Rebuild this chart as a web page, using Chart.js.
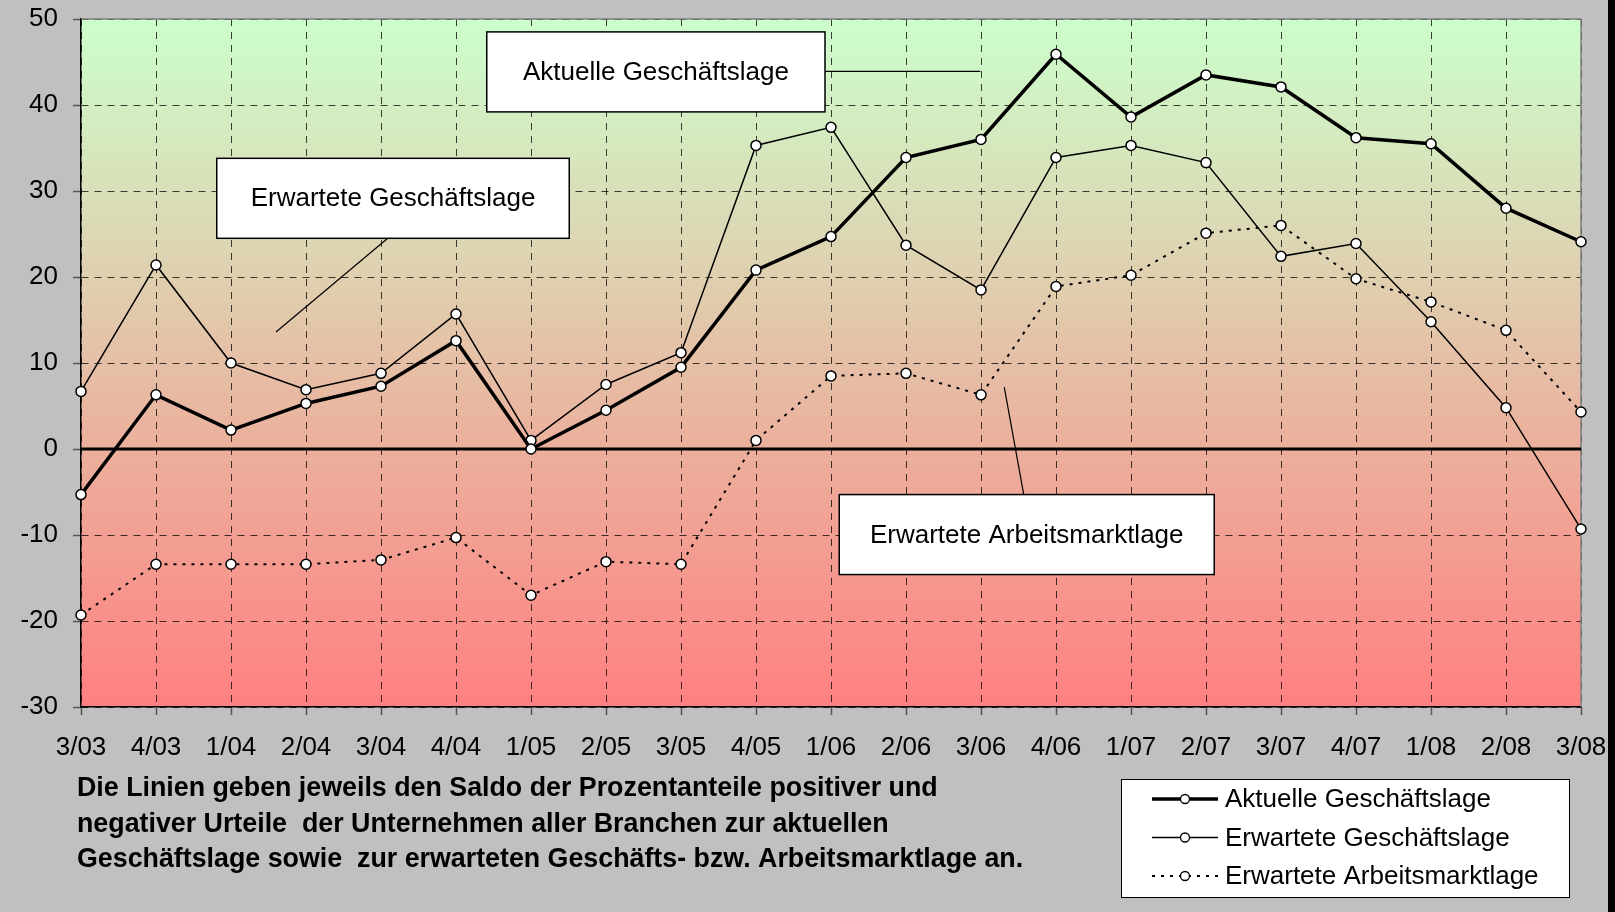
<!DOCTYPE html>
<html><head><meta charset="utf-8">
<script src="https://cdn.jsdelivr.net/npm/chart.js@4.4.0/dist/chart.umd.min.js"></script>
<style>html,body{margin:0;padding:0;background:#c0c0c0;overflow:hidden}
#wrap{position:relative;width:1615px;height:912px}</style>
</head><body><div id="wrap"><canvas id="c" width="1615" height="912"></canvas></div>
<script>
const categories = ['3/03','4/03','1/04','2/04','3/04','4/04','1/05','2/05','3/05','4/05','1/06','2/06','3/06','4/06','1/07','2/07','3/07','4/07','1/08','2/08','3/08'];
const aktuelleLage = [-5.3, 6.3, 2.2, 5.3, 7.3, 12.6, 0.0, 4.5, 9.5, 20.8, 24.7, 33.9, 36.0, 45.9, 38.6, 43.5, 42.1, 36.2, 35.5, 28.0, 24.1];
const erwarteteLage = [6.7, 21.4, 10.0, 6.9, 8.8, 15.7, 1.0, 7.5, 11.2, 35.3, 37.4, 23.7, 18.5, 33.9, 35.3, 33.3, 22.4, 23.9, 14.8, 4.8, -9.3];
const arbeitsmarkt = [-19.3, -13.4, -13.4, -13.4, -12.9, -10.3, -17.0, -13.1, -13.4, 1.0, 8.5, 8.8, 6.3, 18.9, 20.2, 25.1, 26.0, 19.8, 17.1, 13.8, 4.3];
const seriesNames = ['Aktuelle Geschäftslage', 'Erwartete Geschäftslage', 'Erwartete Arbeitsmarktlage'];
const yMin = -30, yMax = 50, yStep = 10;
const noteLines = [
  'Die Linien geben jeweils den Saldo der Prozentanteile positiver und',
  'negativer Urteile  der Unternehmen aller Branchen zur aktuellen',
  'Geschäftslage sowie  zur erwarteten Geschäfts- bzw. Arbeitsmarktlage an.'
];
// callouts: box in data coords [x1,x2,yTop,yBottom], leader from [x,y] to [x,y]
const callouts = [
  {text: seriesNames[0], box: [5.41, 9.92, 48.5, 39.2], from: [9.92, 43.9], to: [11.99, 43.9]},
  {text: seriesNames[1], box: [1.81, 6.51, 33.8, 24.5], from: [4.09, 24.5], to: [2.6, 13.6]},
  {text: seriesNames[2], box: [10.11, 15.11, -5.3, -14.6], from: [12.57, -5.3], to: [12.31, 7.2]}
];

const FONT = '"Liberation Sans", Arial, Helvetica, sans-serif';

const bgPlugin = {
  id: 'bg',
  beforeDraw(chart) {
    const {ctx, chartArea: a} = chart;
    ctx.save();
    ctx.fillStyle = '#c0c0c0';
    ctx.fillRect(0, 0, chart.width, chart.height);
    const g = ctx.createLinearGradient(0, a.top, 0, a.bottom);
    g.addColorStop(0, '#ccffcc');
    g.addColorStop(1, '#ff8080');
    ctx.fillStyle = g;
    ctx.fillRect(a.left, a.top, a.right - a.left, a.bottom - a.top);
    ctx.restore();
  },
  beforeDatasetsDraw(chart) {
    const {ctx, chartArea: a, scales: {y}} = chart;
    ctx.save();
    ctx.strokeStyle = '#808080';
    ctx.lineWidth = 1.5;
    ctx.beginPath();
    ctx.moveTo(a.left, a.top);
    ctx.lineTo(a.right, a.top);
    ctx.lineTo(a.right, a.bottom);
    ctx.stroke();
    const y0 = y.getPixelForValue(0);
    ctx.strokeStyle = '#000';
    ctx.lineWidth = 3;
    ctx.beginPath();
    ctx.moveTo(a.left, y0);
    ctx.lineTo(a.right, y0);
    ctx.stroke();
    ctx.restore();
  },
  afterDatasetsDraw(chart) {
    const {ctx, scales: {x, y}} = chart;
    ctx.save();
    callouts.forEach(c => {
      const x1 = x.getPixelForValue(c.box[0]), x2 = x.getPixelForValue(c.box[1]);
      const y1 = y.getPixelForValue(c.box[2]), y2 = y.getPixelForValue(c.box[3]);
      ctx.strokeStyle = '#000';
      ctx.lineWidth = 1.2;
      ctx.beginPath();
      ctx.moveTo(x.getPixelForValue(c.from[0]), y.getPixelForValue(c.from[1]));
      ctx.lineTo(x.getPixelForValue(c.to[0]), y.getPixelForValue(c.to[1]));
      ctx.stroke();
      ctx.fillStyle = '#fff';
      ctx.fillRect(x1, y1, x2 - x1, y2 - y1);
      ctx.lineWidth = 1.5;
      ctx.strokeRect(x1, y1, x2 - x1, y2 - y1);
      ctx.fillStyle = '#000';
      ctx.font = '26px ' + FONT;
      ctx.textAlign = 'center';
      ctx.textBaseline = 'middle';
      ctx.fillText(c.text, (x1 + x2) / 2, (y1 + y2) / 2 + 1);
    });
    ctx.restore();
  },
  afterDraw(chart) {
    const {ctx} = chart;
    ctx.save();
    // notes
    ctx.fillStyle = '#000';
    ctx.textAlign = 'left';
    ctx.textBaseline = 'middle';
    ctx.font = 'bold 24px ' + FONT;
    const w = ctx.measureText(noteLines[0]).width;
    const fs = 24 * 861 / w;
    ctx.font = 'bold ' + fs.toFixed(2) + 'px ' + FONT;
    noteLines.forEach((t, i) => ctx.fillText(t, 77, 789 + i * 35.5));
    // legend
    const lx = 1121, ly = 779, lw = 448, lh = 118;
    ctx.fillStyle = '#fff';
    ctx.fillRect(lx, ly, lw, lh);
    ctx.strokeStyle = '#000';
    ctx.lineWidth = 1;
    ctx.strokeRect(lx + 0.5, ly + 0.5, lw, lh);
    chart.data.datasets.forEach((ds, i) => {
      const cy = 799 + i * 38.5;
      ctx.strokeStyle = '#000';
      ctx.lineWidth = ds.borderWidth;
      ctx.setLineDash(ds.borderDash || []);
      ctx.beginPath();
      ctx.moveTo(1152, cy);
      ctx.lineTo(1218, cy);
      ctx.stroke();
      ctx.setLineDash([]);
      ctx.fillStyle = '#fff';
      ctx.lineWidth = 1.3;
      ctx.beginPath();
      ctx.arc(1185, cy, 4.5, 0, Math.PI * 2);
      ctx.fill();
      ctx.stroke();
      ctx.fillStyle = '#000';
      ctx.font = '26px ' + FONT;
      ctx.textBaseline = 'middle';
      ctx.fillText(ds.label, 1225, cy + 1);
    });
    // right dark edge
    ctx.fillStyle = '#000';
    ctx.fillRect(1608, 0, 7, chart.height);
    ctx.restore();
  }
};

const pointStyle = {pointRadius: 5, pointHoverRadius: 5, pointBackgroundColor: '#fff', pointBorderColor: '#000', pointBorderWidth: 1.5};

new Chart(document.getElementById('c'), {
  type: 'line',
  data: {
    labels: categories,
    datasets: [
      Object.assign({label: seriesNames[0], data: aktuelleLage, borderColor: '#000', borderWidth: 3.5, tension: 0}, pointStyle),
      Object.assign({label: seriesNames[1], data: erwarteteLage, borderColor: '#000', borderWidth: 1.5, tension: 0}, pointStyle),
      Object.assign({label: seriesNames[2], data: arbeitsmarkt, borderColor: '#000', borderWidth: 2, borderDash: [3, 6], tension: 0}, pointStyle)
    ]
  },
  options: {
    responsive: false,
    animation: false,
    devicePixelRatio: 1,
    layout: {padding: {top: 19, right: 34, left: 0, bottom: 0}},
    plugins: {legend: {display: false}, tooltip: {enabled: false}},
    scales: {
      x: {
        type: 'category',
        offset: false,
        afterFit(s) { s.height = 205; s.paddingLeft = 0; s.paddingRight = 0; },
        ticks: {color: '#000', font: {size: 26, family: FONT}, maxRotation: 0, minRotation: 0, autoSkip: false, padding: 17},
        grid: {color: 'rgba(0,0,0,0.75)', lineWidth: 1, tickLength: 8, tickColor: '#555', tickWidth: 1.5, tickBorderDash: []},
        border: {display: true, color: '#000', width: 1.5, dash: [7, 6]}
      },
      y: {
        min: yMin, max: yMax,
        afterFit(s) { s.width = 81; s.paddingTop = 0; s.paddingBottom = 0; },
        ticks: {stepSize: yStep, color: '#000', font: {size: 26, family: FONT}, padding: 15},
        grid: {color: 'rgba(0,0,0,0.75)', lineWidth: 1, tickLength: 8, tickColor: '#555', tickWidth: 1.5, tickBorderDash: []},
        border: {display: true, color: '#000', width: 1.5, dash: [7, 6]}
      }
    }
  },
  plugins: [bgPlugin]
});
</script>
</body></html>
